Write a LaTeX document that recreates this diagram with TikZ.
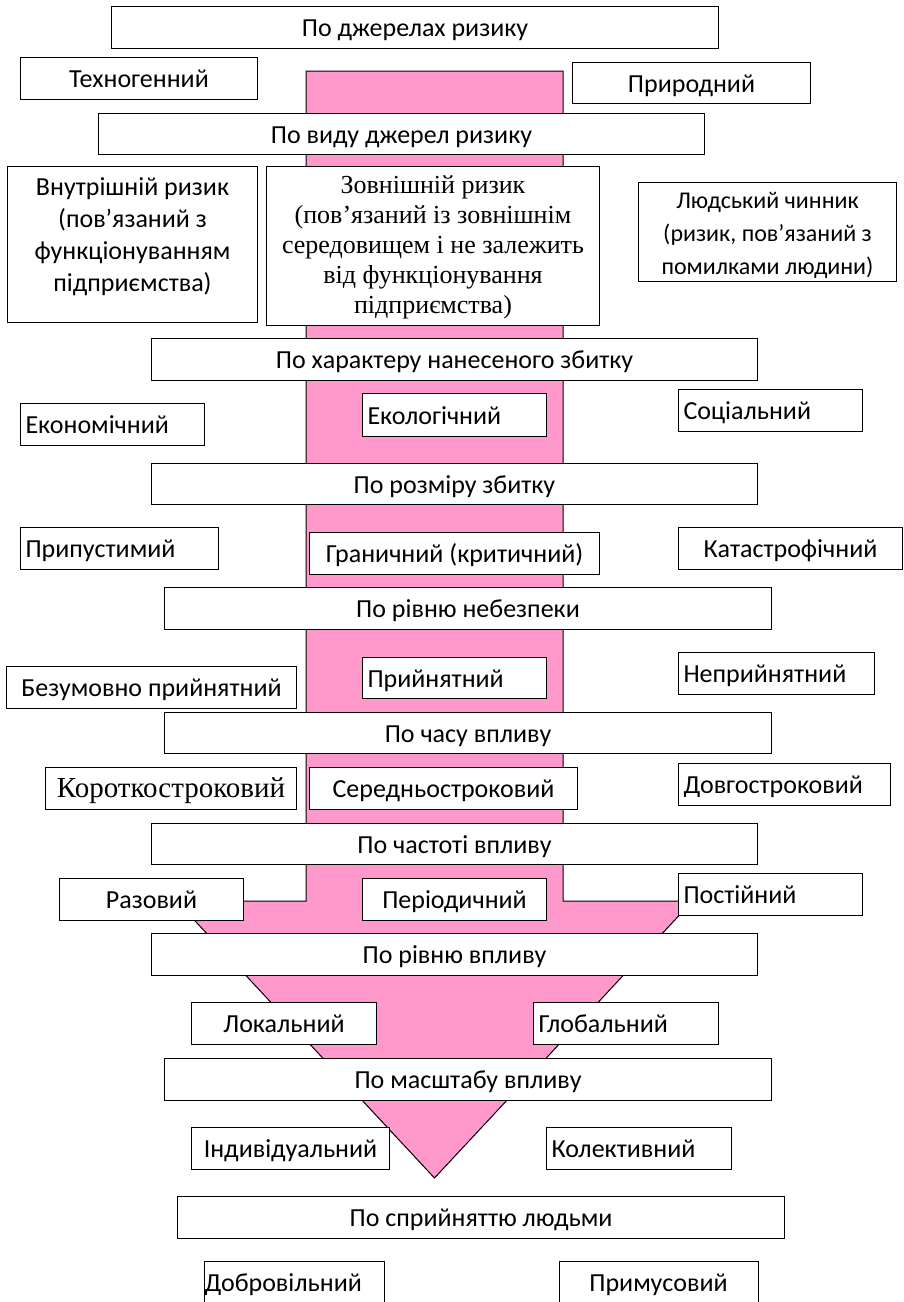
\documentclass[tikz,border=0pt]{standalone}
\usepackage{fontspec}
\setmainfont{Carlito}
\newfontfamily\timesfont{Liberation Serif}
\definecolor{arrowpink}{HTML}{FF99CC}

% centred box from its corners: [opts]{x1}{y1}{x2}{y2}{name}{text}
\newcommand\cbox[7][]{%
  \pgfmathsetmacro\boxw{#4-#2}\pgfmathsetmacro\boxh{#5-#3}%
  \node[box,minimum width=\boxw pt,minimum height=\boxh pt,align=center,#1] (#6) at (#2,#3) {#7};}
% box whose text starts at its left edge
\newcommand\lbox[7][]{%
  \pgfmathsetmacro\boxw{#4-#2-10}\pgfmathsetmacro\boxh{#5-#3}%
  \node[box,text width=\boxw pt,inner xsep=5pt,minimum height=\boxh pt,align=left,#1] (#6) at (#2,#3) {#7};}
% invisible rules that fix the top of the first line and the bottom of the last
\newcommand\toprule[1]{\rule{0pt}{#1}}
\newcommand\botrule[1]{\rule[-#1]{0pt}{#1}}

\begin{document}
\begin{tikzpicture}[x=1pt,y=-1pt,
  box/.style={draw,fill=white,line width=1pt,inner sep=0pt,anchor=north west,
    text height=22pt,text depth=4pt,font=\fontsize{26}{30}\selectfont},
  multi/.style={text height={},text depth={}},
  serif/.style={font=\timesfont\fontsize{26}{30}\selectfont},
  openbox/.style={box,draw=none}]
\fill[white] (0,0) rectangle (903,1302);
\useasboundingbox (0,0) rectangle (903,1302);

% the big downward arrow behind the boxes
\filldraw[fill=arrowpink,draw=black,line width=1pt]
  (306,71) -- (563,71) -- (563,901) -- (692.5,901) -- (434.5,1178)
  -- (176.5,901) -- (306,901) -- cycle;

\cbox{111}{6}{718}{48}{src}{По джерелах ризику}
\cbox{20}{57}{257}{99}{techno}{Техногенний}
\cbox{572}{62}{810}{103}{nature}{Природний}
\cbox{98}{113}{704}{154}{kind}{По виду джерел ризику}
\cbox[multi,font=\fontsize{26}{32}\selectfont]{7}{166}{257}{322}{internal}{\toprule{20pt}Внутрішній ризик\\(пов’язаний з\\функціонуванням\\підприємства)\botrule{22pt}}
\cbox[multi,serif]{266}{166}{599}{325}{external}{\toprule{24pt}Зовнішній ризик\\(пов’язаний із зовнішнім\\середовищем і не залежить\\від функціонування\\підприємства)\botrule{8.4pt}}
\cbox[multi,font=\fontsize{24}{33}\selectfont]{638}{182}{896}{280}{human}{\toprule{26pt}Людський чинник\\(ризик, пов’язаний з\\помилками людини)\botrule{7.4pt}}

\cbox{151}{338}{757}{380}{damage}{По характеру нанесеного збитку}
\lbox{20}{403}{204}{445}{econ}{Економічний}
\lbox{362}{393}{546}{436}{eco}{Екологічний}
\lbox{678}{389}{862}{431}{social}{Соціальний}

\cbox{151}{463}{757}{504}{size}{По розміру збитку}
\lbox{20}{527}{218}{569}{allow}{Припустимий}
\cbox{309}{532}{599}{574}{limit}{Граничний (критичний)}
\cbox{678}{527}{902}{569}{catas}{Катастрофічний}

\cbox{164}{587}{771}{629}{danger}{По рівню небезпеки}
\cbox{6}{666}{296}{708}{uncond}{Безумовно прийнятний}
\lbox{362}{657}{546}{698}{accept}{Прийнятний}
\lbox{678}{652}{874}{694}{unaccept}{Неприйнятний}

\cbox{164}{712}{771}{753}{time}{По часу впливу}
\cbox[font=\timesfont\fontsize{29}{32}\selectfont]{45}{767}{296}{809}{short}{Короткостроковий}
\cbox{309}{767}{577}{809}{mid}{Середньостроковий}
\lbox{678}{763}{890}{805}{long}{Довгостроковий}

\cbox{151}{823}{757}{864}{freq}{По частоті впливу}
\cbox{59}{878}{243}{920}{once}{Разовий}
\cbox{362}{878}{546}{920}{period}{Періодичний}
\lbox{678}{873}{862}{915}{const}{Постійний}

\cbox{151}{933}{757}{975}{level}{По рівню впливу}
\cbox{191}{1002}{376}{1044}{local}{Локальний}
\lbox{533}{1002}{718}{1044}{global}{Глобальний}

\cbox{164}{1058}{771}{1100}{scale}{По масштабу впливу}
\cbox{191}{1127}{389}{1169}{indiv}{Індивідуальний}
\lbox{546}{1127}{731}{1169}{collect}{Колективний}

\cbox{177}{1196}{784}{1238}{percep}{По сприйняттю людьми}
\lbox[openbox]{204}{1261}{393}{1302}{volunt}{Добровільний}
\cbox[openbox]{559}{1261}{757}{1302}{forced}{Примусовий}
\foreach \n in {volunt,forced}
  \draw[line width=1pt] (\n.south west) -- (\n.north west) -- (\n.north east) -- (\n.south east);
\end{tikzpicture}
\end{document}
